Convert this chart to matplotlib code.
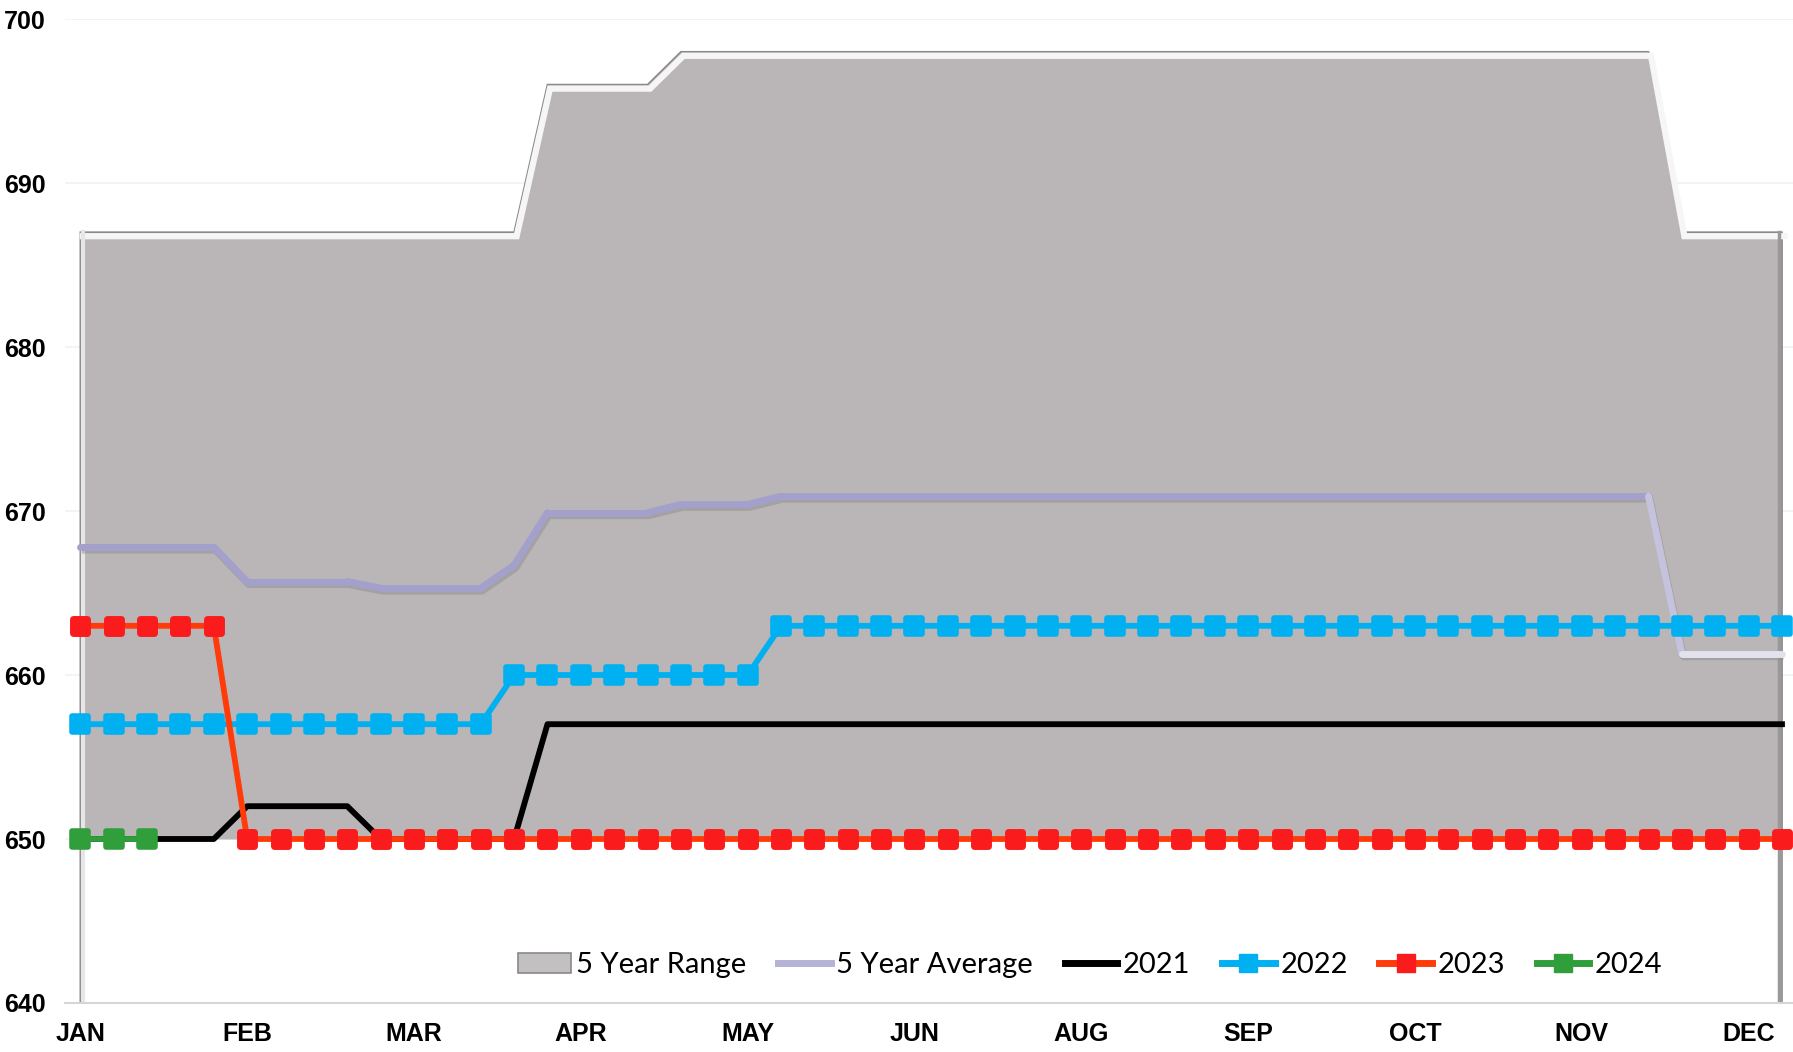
import numpy as np
import matplotlib
matplotlib.use("Agg")
import matplotlib.pyplot as plt
from matplotlib.collections import LineCollection
from matplotlib.lines import Line2D
from matplotlib.patches import Patch
from matplotlib.markers import MarkerStyle
import matplotlib.transforms as mtransforms

# ---------------- data (weekly, 52 weeks) ----------------
weeks = np.arange(52)

range_min = [650, 650, 650, 650, 650, 650, 650, 650, 650, 650, 650, 650, 650,
             650, 650, 650, 650, 650, 650, 650, 650, 650, 650, 650, 650, 650,
             650, 650, 650, 650, 650, 650, 650, 650, 650, 650, 650, 650, 650,
             650, 650, 650, 650, 650, 650, 650, 650, 650, 650, 650, 650, 650]
range_max = [687, 687, 687, 687, 687, 687, 687, 687, 687, 687, 687, 687, 687,
             687, 696, 696, 696, 696, 698, 698, 698, 698, 698, 698, 698, 698,
             698, 698, 698, 698, 698, 698, 698, 698, 698, 698, 698, 698, 698,
             698, 698, 698, 698, 698, 698, 698, 698, 698, 687, 687, 687, 687]
avg_5yr = [667.8, 667.8, 667.8, 667.8, 667.8, 665.7, 665.7, 665.7, 665.7,
           665.3, 665.3, 665.3, 665.3, 666.7, 669.9, 669.9, 669.9, 669.9,
           670.4, 670.4, 670.4, 670.9, 670.9, 670.9, 670.9, 670.9, 670.9,
           670.9, 670.9, 670.9, 670.9, 670.9, 670.9, 670.9, 670.9, 670.9,
           670.9, 670.9, 670.9, 670.9, 670.9, 670.9, 670.9, 670.9, 670.9,
           670.9, 670.9, 670.9, 661.3, 661.3, 661.3, 661.3]
y2021 = [650, 650, 650, 650, 650, 652, 652, 652, 652, 650, 650, 650, 650,
         650, 657, 657, 657, 657, 657, 657, 657, 657, 657, 657, 657, 657,
         657, 657, 657, 657, 657, 657, 657, 657, 657, 657, 657, 657, 657,
         657, 657, 657, 657, 657, 657, 657, 657, 657, 657, 657, 657, 657]
y2022 = [657, 657, 657, 657, 657, 657, 657, 657, 657, 657, 657, 657, 657,
         660, 660, 660, 660, 660, 660, 660, 660, 663, 663, 663, 663, 663,
         663, 663, 663, 663, 663, 663, 663, 663, 663, 663, 663, 663, 663,
         663, 663, 663, 663, 663, 663, 663, 663, 663, 663, 663, 663, 663]
y2023 = [663, 663, 663, 663, 663, 650, 650, 650, 650, 650, 650, 650, 650,
         650, 650, 650, 650, 650, 650, 650, 650, 650, 650, 650, 650, 650,
         650, 650, 650, 650, 650, 650, 650, 650, 650, 650, 650, 650, 650,
         650, 650, 650, 650, 650, 650, 650, 650, 650, 650, 650, 650, 650]
y2024 = [650, 650, 650]

tick_weeks = [0, 5, 10, 15, 20, 25, 30, 35, 40, 45, 50]
month_labels = ["JAN", "FEB", "MAR", "APR", "MAY", "JUN", "AUG", "SEP",
                "OCT", "NOV", "DEC"]
y_ticks = [640, 650, 660, 670, 680, 690, 700]
legend_labels = ["5 Year Range", "5 Year Average", "2021", "2022", "2023", "2024"]

# ---------------- styling ----------------
W, H = 1793, 1052
fig = plt.figure(figsize=(W / 100, H / 100), dpi=100)
ax = fig.add_axes([65 / W, 49 / H, (W - 65) / W, 984 / H])
ax.set_xlim(-0.46, 51.33)
ax.set_ylim(640, 700)

AREA = "#bab6b7"
AVG = "#a3a1cb"
AVG_PALE = "#e2e2ec"
CYAN = "#00b0f0"
RED_M = "#fa1c1c"
RED_L = "#ff3b0a"
GREEN = "#2f9e3b"

for s in ["top", "right", "left"]:
    ax.spines[s].set_visible(False)
ax.spines["bottom"].set_color("#d6d6d6")
ax.spines["bottom"].set_linewidth(1.5)

ax.set_yticks(y_ticks)
ax.yaxis.grid(True, color="#f1f1f1", linewidth=1.2, zorder=0)
ax.set_axisbelow(True)
ax.tick_params(axis="y", length=0, pad=14, labelsize=18)
ax.set_xticks(tick_weeks)
ax.set_xticklabels(month_labels)
ax.tick_params(axis="x", length=0, pad=14, labelsize=18)
for lab in ax.get_xticklabels() + ax.get_yticklabels():
    lab.set_fontfamily("Liberation Sans")
    lab.set_fontweight("bold")
    lab.set_color("#000000")

# ---------------- 5 year range (area with bevel look) ----------------
ax.fill_between(weeks, range_min, range_max, color=AREA, linewidth=0, zorder=1)
edge_x = np.concatenate([[weeks[0]], weeks, [weeks[-1]]])
edge_y = np.concatenate([[640], range_max, [640]])
ax.plot(edge_x, edge_y, color="#8a8889", lw=1.2, zorder=2,
        solid_joinstyle="miter")
hl = mtransforms.offset_copy(ax.transData, fig=fig, x=2.5, y=-4, units="dots")
ax.plot(weeks, range_max, color="#f7f6f6", lw=4.5, zorder=2, transform=hl,
        solid_joinstyle="miter")
hl2 = mtransforms.offset_copy(ax.transData, fig=fig, x=3, y=0, units="dots")
ax.plot([weeks[0], weeks[0]], [640, range_max[0]], color="#e6e6e6", lw=3,
        zorder=2, transform=hl2)
hl3 = mtransforms.offset_copy(ax.transData, fig=fig, x=-3, y=0, units="dots")
ax.plot([weeks[-1], weeks[-1]], [640, range_max[-1]], color="#9a9898", lw=2.5,
        zorder=2, transform=hl3)

# ---------------- 5 year average (gradient line with shadow) ----------------
pts = np.column_stack([weeks, avg_5yr])
segs = np.stack([pts[:-1], pts[1:]], axis=1)
seg_colors = []
for i in range(len(segs)):
    if i < 47:
        seg_colors.append(AVG)
    elif i == 47:
        seg_colors.append("#c4c2dc")
    else:
        seg_colors.append(AVG_PALE)
shadow_tr = mtransforms.offset_copy(ax.transData, fig=fig, x=1.5, y=-3, units="dots")
ax.plot(weeks, avg_5yr, color="#8f8d8e", lw=5, alpha=0.5, zorder=3,
        transform=shadow_tr, solid_capstyle="butt")
lc = LineCollection(segs, colors=seg_colors, linewidths=5, zorder=4,
                    capstyle="round", joinstyle="round")
ax.add_collection(lc)

# ---------------- yearly series ----------------
sq_round = MarkerStyle("s", joinstyle="round")
ax.plot(weeks, y2021, color="#000000", lw=4.2, zorder=5)
ax.plot(weeks, y2022, color=CYAN, lw=4.2, marker=sq_round, markersize=11,
        markerfacecolor=CYAN, markeredgecolor=CYAN, markeredgewidth=4, zorder=6)
ax.plot(weeks, y2023, color=RED_L, lw=4.2, zorder=7)
ax.plot(weeks, y2023, color=RED_L, lw=0, marker=sq_round, markersize=10,
        markerfacecolor=RED_M, markeredgecolor=RED_M, markeredgewidth=5, zorder=7)
ax.plot(weeks[:len(y2024)], y2024, color=GREEN, lw=4.2, marker=sq_round,
        markersize=11, markerfacecolor=GREEN, markeredgecolor=GREEN,
        markeredgewidth=4, zorder=8)

# ---------------- legend ----------------
handles = [
    Patch(facecolor="#c2c0c1", edgecolor="#8a8888", linewidth=1.2),
    Line2D([], [], color="#b4b3d6", lw=5),
    Line2D([], [], color="#000000", lw=5),
    Line2D([], [], color=CYAN, lw=5, marker="s", markersize=13, mec=CYAN, mfc=CYAN),
    Line2D([], [], color=RED_L, lw=5, marker="s", markersize=13, mec=RED_M, mfc=RED_M),
    Line2D([], [], color=GREEN, lw=5, marker="s", markersize=13, mec=GREEN, mfc=GREEN),
]
fig.legend(handles, legend_labels, loc="center left",
           bbox_to_anchor=(518 / W, 1 - 965 / H), ncol=6, frameon=False,
           prop={"family": "Lato", "size": 21}, handlelength=1.8,
           handletextpad=0.2, columnspacing=1.08, borderpad=0,
           borderaxespad=0, numpoints=1)

fig.savefig("out.png", dpi=100, facecolor="white")
